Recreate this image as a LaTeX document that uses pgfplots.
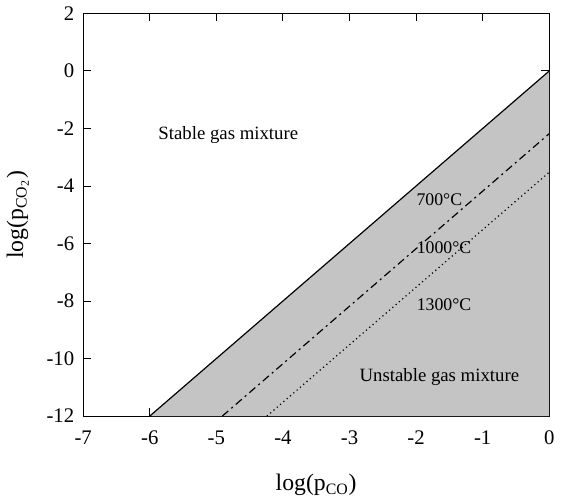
\documentclass[border=0pt]{standalone}
\usepackage{pgfplots}
\pgfplotsset{compat=1.18}
\usepackage{fontspec}
\setmainfont{Liberation Serif}
\definecolor{shade}{HTML}{C4C4C4}

\begin{document}
\begin{tikzpicture}
\begin{axis}[
  width=235bp, height=203bp, scale only axis,
  xmin=-7, xmax=0, ymin=-12, ymax=2,
  xtick={-7,-6,...,0}, ytick={-12,-10,...,2},
  tick align=inside, major tick length=4bp,
  tick style={black, line width=0.5pt},
  axis line style={black, line width=0.5pt},
  /pgf/number format/assume math mode=true,
  tick label style={font=\fontsize{10.5}{12}\selectfont},
  xticklabel style={yshift=-4bp},
  yticklabel style={xshift=-1bp},
  label style={font=\fontsize{12}{14}\selectfont},
  xlabel={log(p\textsubscript{CO})},
  ylabel={log(p\textsubscript{CO\textsubscript{2}})},
  xlabel style={yshift=-8bp},
  ylabel style={yshift=2bp},
  clip=true,
]
% unstable region
\addplot[draw=none, fill=shade] coordinates {(-6,-12) (0,0) (0,-12)} -- cycle;
% equilibrium lines
\addplot[black, line width=0.6pt] coordinates {(-6,-12) (0,0)};
\addplot[black, line width=0.6pt, dash pattern=on 4bp off 2bp on 1bp off 2bp] coordinates {(-4.91,-12) (0,-2.18)};
\addplot[black, line width=0.6pt, dash pattern=on 0.6bp off 1.6bp] coordinates {(-4.24,-12) (0,-3.52)};

\node[font=\fontsize{9.5}{11}\selectfont] at (axis cs:-4.82,-2.22) {Stable gas mixture};
\node[font=\fontsize{9.5}{11}\selectfont] at (axis cs:-1.65,-10.63) {Unstable gas mixture};
\node[font=\fontsize{9}{10}\selectfont] at (axis cs:-1.65,-4.47) {700\textdegree C};
\node[font=\fontsize{9}{10}\selectfont] at (axis cs:-1.58,-6.13) {1000\textdegree C};
\node[font=\fontsize{9}{10}\selectfont] at (axis cs:-1.58,-8.14) {1300\textdegree C};
\end{axis}
\end{tikzpicture}
\end{document}
